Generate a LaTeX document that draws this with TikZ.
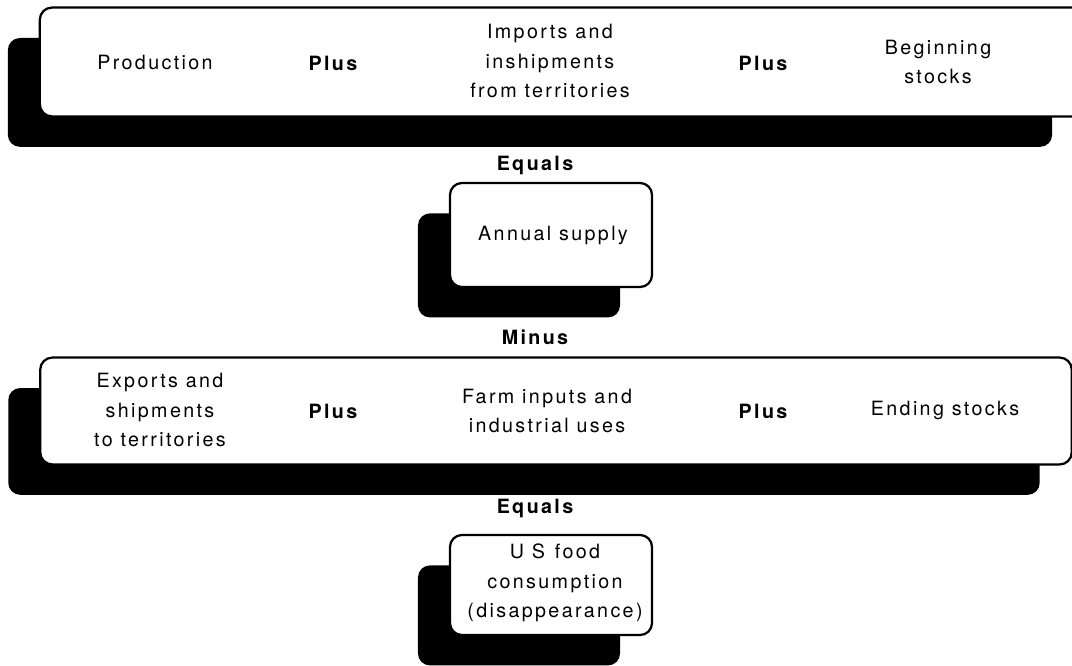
\documentclass[tikz,border=0pt]{standalone}
\usepackage{fontspec}
\newfontfamily\lblfont{TeX Gyre Heros}[LetterSpace=12]
\usetikzlibrary{shadows}
\tikzset{
  flowbox/.style={draw=black,line width=1.6pt,rounded corners=0.3cm,fill=white,
    drop shadow={shadow xshift=-0.8cm,shadow yshift=-0.76cm,fill=black,opacity=1}},
  lbl/.style={align=center,font=\lblfont\fontsize{14}{21}\selectfont},
  op/.style={font=\lblfont\bfseries\fontsize{14}{21}\selectfont}
}
\begin{document}
\begin{tikzpicture}[x=0.025cm,y=-0.025cm,line join=round,line cap=round]
	\useasboundingbox (0,0) rectangle (1072,665);
	% boxes
	\node[flowbox,minimum width=26.1cm,minimum height=2.72cm] (sources) at (562,62) {};
	\node[flowbox,minimum width=5.05cm,minimum height=2.6cm] (supply) at (551,235) {};
	\node[flowbox,minimum width=25.78cm,minimum height=2.67cm] (uses) at (556,411) {};
	\node[flowbox,minimum width=5.05cm,minimum height=2.5cm] (food) at (551,585) {};
	% top row
	\node[lbl] (prod) at (155,62) {Production};
	\node[lbl] (imports) at (550,61) {Imports and\\inshipments\\from territories};
	\node[lbl] (begstocks) at (938,62) {Beginning\\stocks};
	% bottom row
	\node[lbl] (exports) at (160,410) {Exports and\\shipments\\to territories};
	\node[lbl] (farm) at (547,411) {Farm inputs and\\industrial uses};
	\node[lbl] (endstocks) at (945,410) {Ending stocks};
	% results
	\node[lbl] (annual) at (553,235) {Annual supply};
	\node[lbl] (usfood) at (555,583) {U S\enspace food\\consumption\\(disappearance)};
	% operators
	\foreach \n/\x/\y/\t in {plusA/333/63/Plus,plusB/763/63/Plus,plusC/333/411/Plus,plusD/763/411/Plus,
		eqA/535/165/Equals,minus/535/337/Minus,eqB/535/508/Equals}{
		\node[op] (\n) at (\x,\y) {\t};
	}
\end{tikzpicture}
\end{document}
